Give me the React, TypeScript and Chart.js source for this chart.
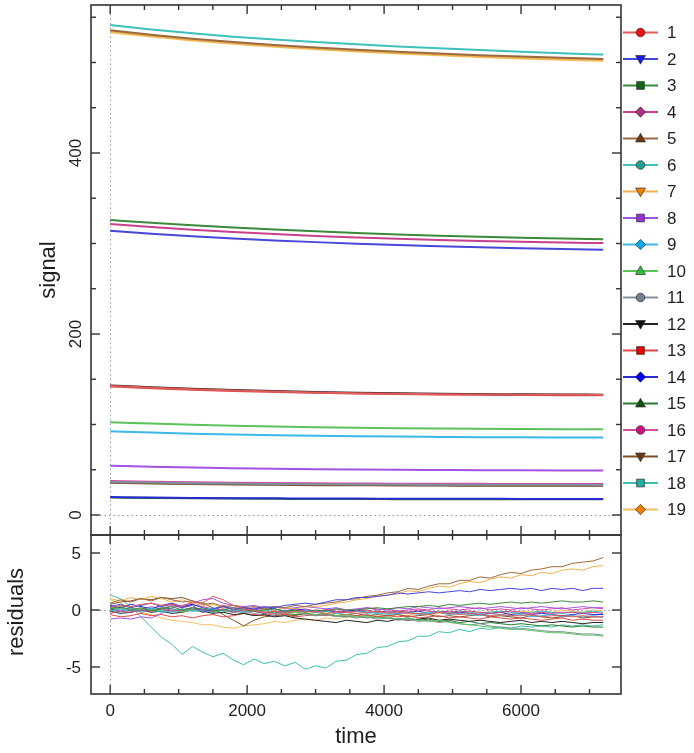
import { useEffect, useRef } from 'react';
import { Chart, registerables } from 'chart.js';
Chart.register(...registerables);

const FONT = '"Liberation Sans", Arial, Helvetica, sans-serif';

// ---------- axis ticks ----------
const timeMajorTicks = [0, 2000, 4000, 6000];
const timeMinorTicks = [500, 1000, 1500, 2500, 3000, 3500, 4500, 5000, 5500, 6500, 7000];
const signalMajorTicks = [0, 200, 400];
const signalMinorTicks = [50, 100, 150, 250, 300, 350, 450, 500, 550];
const residMajorTicks = [-5, 0, 5];

// ---------- series ----------
const seriesLabels = ['1', '2', '3', '4', '5', '6', '7', '8', '9', '10', '11', '12', '13', '14', '15', '16', '17', '18', '19'];
const lineColors = ['#e25b5b', '#4646d8', '#3a8a3a', '#c8408c', '#9a6a40', '#3ec0bc', '#f2b04e', '#a452e2', '#3cb8e8', '#5cc25c', '#8090a0', '#222222', '#e04848', '#2a2ad0', '#2e7a2e', '#d24ca4', '#7e5024', '#3cc0b0', '#f2c060'];
const markerColors = ['#f01010', '#1a1aee', '#116611', '#b0307a', '#6b3a10', '#20a090', '#f08000', '#9a30e0', '#10a8e8', '#30c040', '#708090', '#111111', '#f00000', '#0000ee', '#105010', '#d01080', '#6b3a10', '#20b0a0', '#f08000'];
const markerShapes = ['circle', 'triDown', 'square', 'diamond', 'triUp', 'circle', 'triDown', 'square', 'diamond', 'triUp', 'circle', 'triDown', 'square', 'diamond', 'triUp', 'circle', 'triDown', 'square', 'diamond'];

// ---------- fitted signal curves ----------
const fitTimes = [0, 600, 1200, 1800, 2400, 3000, 3600, 4200, 4800, 5400, 6000, 6600, 7200];
const signal1 = [142.5, 140.6, 139.0, 137.6, 136.4, 135.4, 134.6, 134.0, 133.5, 133.2, 133.0, 132.8, 132.7];
const signal2 = [314.0, 310.8, 308.0, 305.6, 303.4, 301.5, 299.8, 298.3, 297.0, 295.8, 294.8, 293.9, 293.2];
const signal3 = [326.0, 322.9, 320.1, 317.6, 315.4, 313.4, 311.6, 310.0, 308.6, 307.4, 306.3, 305.4, 304.6];
const signal4 = [321.5, 318.2, 315.3, 312.7, 310.4, 308.4, 306.6, 305.1, 303.8, 302.7, 301.8, 301.0, 300.4];
const signal5 = [535.5, 530.6, 526.3, 522.6, 519.4, 516.6, 514.1, 511.9, 509.9, 508.1, 506.5, 505.1, 503.9];
const signal6 = [541.5, 536.5, 532.2, 528.5, 525.3, 522.5, 520.0, 517.7, 515.6, 513.7, 511.9, 510.2, 508.7];
const signal7 = [534.5, 529.5, 525.2, 521.5, 518.3, 515.5, 513.0, 510.8, 508.8, 507.0, 505.4, 504.0, 502.8];
const signal8 = [54.5, 53.4, 52.5, 51.7, 51.1, 50.6, 50.2, 49.9, 49.7, 49.5, 49.4, 49.3, 49.2];
const signal9 = [92.5, 91.1, 89.9, 88.9, 88.1, 87.5, 87.0, 86.6, 86.3, 86.0, 85.8, 85.7, 85.6];
const signal10 = [102.5, 101.0, 99.7, 98.6, 97.7, 97.0, 96.4, 95.9, 95.5, 95.2, 95.0, 94.8, 94.7];
const signal11 = [36.5, 35.8, 35.2, 34.7, 34.3, 34.0, 33.8, 33.6, 33.5, 33.4, 33.3, 33.3, 33.2];
const signal12 = [143.2, 141.2, 139.5, 138.1, 136.9, 135.9, 135.1, 134.4, 133.9, 133.6, 133.3, 133.1, 133.0];
const signal13 = [142.0, 140.1, 138.5, 137.1, 136.0, 135.0, 134.2, 133.6, 133.1, 132.8, 132.6, 132.4, 132.3];
const signal14 = [19.8, 19.3, 18.9, 18.6, 18.4, 18.2, 18.1, 18.0, 17.9, 17.9, 17.8, 17.8, 17.8];
const signal15 = [19.3, 18.8, 18.4, 18.1, 17.9, 17.7, 17.6, 17.5, 17.4, 17.4, 17.3, 17.3, 17.3];
const signal16 = [37.5, 36.8, 36.2, 35.7, 35.3, 35.0, 34.8, 34.6, 34.5, 34.4, 34.3, 34.3, 34.2];
const signal17 = [35.5, 34.8, 34.2, 33.7, 33.3, 33.0, 32.8, 32.6, 32.5, 32.4, 32.3, 32.3, 32.2];
const signal18 = [36.0, 35.3, 34.7, 34.2, 33.8, 33.5, 33.3, 33.1, 33.0, 32.9, 32.8, 32.8, 32.7];
const signal19 = [533.5, 528.6, 524.3, 520.6, 517.4, 514.6, 512.1, 509.9, 507.9, 506.1, 504.5, 503.1, 501.9];

// ---------- residuals ----------
const residTimes = [
  0, 150, 300, 450, 600, 750, 900,
  1050, 1200, 1350, 1500, 1650, 1800, 1950,
  2100, 2250, 2400, 2550, 2700, 2850, 3000,
  3150, 3300, 3450, 3600, 3750, 3900, 4050,
  4200, 4350, 4500, 4650, 4800, 4950, 5100,
  5250, 5400, 5550, 5700, 5850, 6000, 6150,
  6300, 6450, 6600, 6750, 6900, 7050, 7200,
];
const resid1 = [
  0.2, 0.4, 0.3, 0.5, 0.6, 0.4, 0.5,
  0.3, 0.7, 0.6, 1.2, 0.9, 0.4, 0.1,
  0.0, -0.2, -0.1, -0.3, -0.1, -0.2, -0.1,
  -0.3, -0.2, -0.2, -0.3, -0.2, -0.1, -0.3,
  -0.2, -0.3, -0.3, -0.4, -0.2, -0.3, -0.4,
  -0.3, -0.4, -0.5, -0.4, -0.5, -0.5, -0.4,
  -0.6, -0.5, -0.5, -0.6, -0.5, -0.6, -0.6,
];
const resid2 = [
  0.3, 0.5, 0.2, 0.4, 0.6, 0.3, 0.5,
  0.2, 0.4, -0.2, 0.1, 0.3, 0.0, 0.2,
  0.1, 0.3, 0.2, 0.4, 0.5, 0.6, 0.5,
  0.7, 0.9, 0.9, 1.1, 1.1, 1.2, 1.3,
  1.5, 1.4, 1.5, 1.6, 1.5, 1.6, 1.7,
  1.6, 1.8, 1.7, 1.8, 1.9, 1.8, 1.9,
  1.7, 1.9, 1.8, 1.9, 1.7, 1.9, 1.9,
];
const resid3 = [
  0.1, 0.3, 0.0, 0.2, -0.1, 0.1, 0.3,
  0.0, 0.2, 0.1, -0.1, 0.0, 0.2, 0.1,
  -0.1, 0.0, 0.1, -0.1, 0.0, -0.2, 0.0,
  -0.1, 0.1, 0.0, 0.0, 0.1, 0.2, 0.1,
  0.2, 0.3, 0.3, 0.4, 0.3, 0.5, 0.4,
  0.5, 0.6, 0.5, 0.6, 0.7, 0.6, 0.7,
  0.6, 0.7, 0.8, 0.7, 0.7, 0.8, 0.7,
];
const resid4 = [
  -0.3, -0.1, -0.2, 0.0, -0.1, 0.1, -0.1,
  0.0, 0.2, 0.0, -0.1, 0.1, -0.2, 0.0,
  -0.1, -0.3, -0.1, -0.2, 0.0, -0.1, -0.2,
  0.0, -0.1, -0.2, -0.1, 0.0, -0.2, -0.1,
  -0.1, -0.2, 0.0, -0.1, -0.2, -0.1, -0.2,
  -0.1, -0.2, -0.3, -0.2, -0.1, -0.2, -0.3,
  -0.2, -0.3, -0.2, -0.2, -0.3, -0.2, -0.3,
];
const resid5 = [
  0.6, 0.9, 0.7, 1.0, 0.8, 1.1, 0.9,
  0.7, 0.8, 0.5, 0.6, 0.3, 0.4, 0.2,
  0.3, 0.1, 0.3, 0.2, 0.4, 0.3, 0.5,
  0.6, 0.7, 0.9, 1.0, 1.2, 1.3, 1.5,
  1.6, 1.9, 1.8, 2.1, 2.3, 2.3, 2.6,
  2.6, 2.9, 2.8, 3.1, 3.3, 3.2, 3.5,
  3.6, 3.8, 3.8, 4.1, 4.2, 4.3, 4.6,
];
const resid6 = [
  0.0, -0.2, 0.1, -0.1, 0.0, -0.2, -0.1,
  0.1, -0.1, 0.0, -0.2, 0.0, -0.1, 0.1,
  -0.1, 0.0, -0.2, -0.1, 0.0, -0.1, -0.2,
  -0.1, -0.3, -0.2, -0.1, -0.2, -0.3, -0.2,
  -0.1, -0.2, -0.3, -0.2, -0.1, -0.2, -0.1,
  -0.2, -0.3, -0.2, -0.1, -0.2, -0.3, -0.2,
  -0.1, -0.2, -0.3, -0.2, -0.2, -0.1, -0.2,
];
const resid7 = [
  1.0, 0.8, 1.1, 0.9, 1.2, 1.0, 0.7,
  0.9, 0.6, 0.4, 0.5, 0.2, 0.1, 0.0,
  -0.1, 0.1, 0.0, 0.2, 0.1, 0.3, 0.3,
  0.4, 0.6, 0.7, 0.9, 1.0, 1.2, 1.3,
  1.4, 1.7, 1.6, 1.9, 2.1, 2.0, 2.3,
  2.5, 2.4, 2.7, 2.9, 2.8, 3.1, 3.0,
  3.3, 3.2, 3.5, 3.6, 3.5, 3.8, 3.9,
];
const resid8 = [
  -0.8, -0.7, -0.8, -0.6, -0.7, -0.3, 0.2,
  0.4, 0.6, 0.9, 1.0, 0.6, 0.4, 0.3,
  0.4, 0.2, 0.3, 0.1, 0.2, 0.3, 0.2,
  0.1, 0.2, 0.0, 0.1, 0.2, 0.1, 0.0,
  0.2, 0.1, 0.3, 0.2, 0.1, 0.2, 0.3,
  0.2, 0.1, 0.2, 0.3, 0.2, 0.1, 0.2,
  0.3, 0.2, 0.1, 0.2, 0.3, 0.2, 0.2,
];
const resid9 = [
  0.2, 0.0, 0.1, -0.1, 0.2, 0.0, -0.2,
  0.1, -0.1, 0.0, 0.2, -0.1, 0.0, -0.2,
  0.0, -0.1, 0.1, -0.2, -0.1, 0.0, -0.2,
  -0.1, -0.3, -0.2, -0.1, -0.3, -0.2, -0.4,
  -0.3, -0.2, -0.4, -0.3, -0.2, -0.4, -0.3,
  -0.4, -0.5, -0.3, -0.4, -0.5, -0.4, -0.6,
  -0.5, -0.4, -0.6, -0.5, -0.6, -0.5, -0.6,
];
const resid10 = [
  0.3, 0.1, 0.2, 0.0, 0.1, -0.1, 0.0,
  -0.2, 0.0, -0.1, 0.1, -0.1, -0.2, 0.0,
  -0.1, -0.2, -0.1, -0.3, -0.2, -0.3, -0.4,
  -0.3, -0.5, -0.4, -0.6, -0.5, -0.7, -0.6,
  -0.8, -0.7, -0.9, -1.0, -0.9, -1.1, -1.2,
  -1.3, -1.4, -1.5, -1.6, -1.7, -1.7, -1.8,
  -1.9, -2.0, -2.0, -2.1, -2.2, -2.2, -2.3,
];
const resid11 = [
  -0.1, 0.1, 0.0, -0.2, 0.0, -0.1, 0.1,
  -0.1, 0.0, -0.2, -0.1, 0.0, -0.2, -0.1,
  -0.3, -0.2, -0.4, -0.3, -0.2, -0.4, -0.5,
  -0.4, -0.6, -0.5, -0.7, -0.6, -0.8, -0.7,
  -0.9, -0.8, -1.0, -0.9, -1.1, -1.0, -1.2,
  -1.3, -1.2, -1.4, -1.5, -1.6, -1.6, -1.7,
  -1.8, -1.9, -1.9, -2.0, -2.1, -2.1, -2.2,
];
const resid12 = [
  -0.1, -0.3, -0.2, 0.0, -0.2, -0.1, -0.3,
  -0.2, 0.0, -0.1, -0.3, -0.2, -0.4, -0.3,
  -0.5, -0.4, -0.6, -0.5, -0.7, -0.8, -0.9,
  -1.0, -1.1, -0.9, -1.0, -1.1, -0.9, -1.0,
  -0.8, -0.9, -0.8, -0.7, -0.9, -0.8, -0.9,
  -1.0, -0.9, -1.0, -1.1, -1.0, -0.9, -1.1,
  -1.0, -1.1, -1.0, -1.1, -1.2, -1.1, -1.1,
];
const resid13 = [
  -0.4, -0.6, -0.5, -0.3, -0.5, -0.4, -0.6,
  -0.5, -0.7, -0.5, -0.4, -0.6, -0.5, -0.3,
  -0.4, -0.5, -0.3, -0.4, -0.6, -0.5, -0.4,
  -0.5, -0.3, -0.4, -0.5, -0.4, -0.6, -0.5,
  -0.6, -0.5, -0.7, -0.6, -0.5, -0.7, -0.6,
  -0.7, -0.8, -0.6, -0.7, -0.8, -0.7, -0.8,
  -0.9, -0.8, -0.7, -0.9, -0.8, -0.9, -0.9,
];
const resid14 = [
  0.4, 0.2, 0.5, 0.3, 0.1, 0.4, 0.6,
  0.3, 0.5, 0.2, 0.0, 0.3, 0.1, 0.2,
  0.0, 0.2, 0.1, -0.1, 0.1, 0.0, -0.1,
  0.0, -0.2, -0.1, 0.0, -0.2, -0.1, -0.2,
  -0.3, -0.2, -0.1, -0.3, -0.2, -0.3, -0.2,
  -0.3, -0.4, -0.3, -0.2, -0.4, -0.3, -0.4,
  -0.3, -0.4, -0.5, -0.4, -0.3, -0.4, -0.4,
];
const resid15 = [
  0.0, 0.2, -0.1, 0.1, 0.0, 0.2, 0.1,
  -0.1, 0.1, 0.0, -0.2, 0.0, -0.1, -0.2,
  -0.1, -0.3, -0.2, -0.3, -0.4, -0.3, -0.5,
  -0.4, -0.5, -0.6, -0.5, -0.7, -0.6, -0.7,
  -0.8, -0.7, -0.9, -0.8, -1.0, -0.9, -1.1,
  -1.0, -1.2, -1.1, -1.2, -1.3, -1.2, -1.3,
  -1.4, -1.3, -1.4, -1.5, -1.4, -1.5, -1.5,
];
const resid16 = [
  0.1, -0.1, 0.2, 0.0, 0.3, 0.1, 0.4,
  0.2, 0.5, 0.3, 0.1, 0.4, 0.2, 0.0,
  0.2, 0.0, 0.1, -0.1, 0.0, 0.1, -0.1,
  0.0, 0.1, -0.1, 0.0, 0.2, 0.0, 0.1,
  -0.1, 0.0, 0.1, 0.0, 0.2, 0.1, 0.0,
  0.1, 0.2, 0.0, 0.1, 0.0, 0.2, 0.1,
  0.0, 0.1, 0.2, 0.0, 0.1, 0.2, 0.1,
];
const resid17 = [
  0.5, 0.7, 0.8, 1.0, 0.9, 1.1, 1.0,
  1.1, 0.8, 0.6, 0.2, -0.4, -0.9, -1.4,
  -0.9, -0.6, -0.5, -0.4, -0.5, -0.3, -0.4,
  -0.3, -0.5, -0.4, -0.3, -0.5, -0.4, -0.5,
  -0.4, -0.6, -0.5, -0.4, -0.6, -0.5, -0.6,
  -0.5, -0.4, -0.6, -0.5, -0.6, -0.7, -0.5,
  -0.6, -0.7, -0.6, -0.5, -0.7, -0.6, -0.6,
];
const resid18 = [
  1.3, 1.0, 0.3, -0.6, -1.5, -2.4, -3.0,
  -3.9, -3.2, -3.7, -4.1, -3.8, -4.4, -4.8,
  -4.3, -4.7, -4.5, -4.9, -4.6, -5.2, -4.9,
  -5.1, -4.5, -4.4, -3.9, -3.8, -3.3, -3.2,
  -2.8, -2.7, -2.3, -2.3, -1.9, -2.0, -1.7,
  -1.9, -1.6, -1.7, -1.5, -1.6, -1.4, -1.5,
  -1.4, -1.5, -1.3, -1.4, -1.3, -1.4, -1.3,
];
const resid19 = [
  0.9, 0.6, 0.2, -0.2, -0.4, -0.7, -0.9,
  -1.0, -1.1, -1.3, -1.3, -1.5, -1.6, -1.4,
  -1.3, -1.2, -1.0, -1.1, -0.9, -0.8, -0.9,
  -0.7, -0.8, -0.6, -0.7, -0.5, -0.6, -0.5,
  -0.4, -0.5, -0.3, -0.4, -0.3, -0.2, -0.3,
  -0.2, -0.3, -0.1, -0.2, -0.3, -0.1, -0.2,
  -0.1, -0.2, 0.0, -0.1, -0.2, 0.0, -0.1,
];

const signals = [signal1, signal2, signal3, signal4, signal5, signal6, signal7, signal8, signal9, signal10,
  signal11, signal12, signal13, signal14, signal15, signal16, signal17, signal18, signal19];
const residuals = [resid1, resid2, resid3, resid4, resid5, resid6, resid7, resid8, resid9, resid10,
  resid11, resid12, resid13, resid14, resid15, resid16, resid17, resid18, resid19];

const TEXT = '#1e1e1e';
const FRAME = '#333333';

function drawMarker(ctx: CanvasRenderingContext2D, shape: string, x: number, y: number, r: number, fill: string) {
  ctx.beginPath();
  if (shape === 'circle') {
    ctx.arc(x, y, r, 0, Math.PI * 2);
  } else if (shape === 'square') {
    ctx.rect(x - r * 0.9, y - r * 0.9, r * 1.8, r * 1.8);
  } else if (shape === 'diamond') {
    ctx.moveTo(x, y - r * 1.2); ctx.lineTo(x + r * 1.2, y); ctx.lineTo(x, y + r * 1.2); ctx.lineTo(x - r * 1.2, y); ctx.closePath();
  } else if (shape === 'triUp') {
    ctx.moveTo(x, y - r * 1.2); ctx.lineTo(x + r * 1.15, y + r * 0.8); ctx.lineTo(x - r * 1.15, y + r * 0.8); ctx.closePath();
  } else {
    ctx.moveTo(x, y + r * 1.2); ctx.lineTo(x + r * 1.15, y - r * 0.8); ctx.lineTo(x - r * 1.15, y - r * 0.8); ctx.closePath();
  }
  ctx.fillStyle = fill;
  ctx.fill();
  ctx.strokeStyle = 'rgba(40,40,40,0.85)';
  ctx.lineWidth = 0.8;
  ctx.stroke();
}

function line(ctx: CanvasRenderingContext2D, x1: number, y1: number, x2: number, y2: number) {
  ctx.beginPath(); ctx.moveTo(x1, y1); ctx.lineTo(x2, y2); ctx.stroke();
}

function drawGuides(chart: any) {
  const ctx = chart.ctx as CanvasRenderingContext2D;
  const { left, right, top, bottom } = chart.chartArea;
  const xs = chart.scales.x, ys = chart.scales.y;
  ctx.save();
  ctx.strokeStyle = '#9a9a9a';
  ctx.lineWidth = 1;
  ctx.setLineDash([1.5, 3]);
  const x0 = Math.round(xs.getPixelForValue(0)) + 0.5;
  line(ctx, x0, top, x0, bottom);
  const y0 = Math.round(ys.getPixelForValue(0)) + 0.5;
  line(ctx, left, y0, right, y0);
  ctx.restore();
}

function drawFrame(chart: any, yMajor: number[], yMinor: number[]) {
  const ctx = chart.ctx as CanvasRenderingContext2D;
  const { left, right, top, bottom } = chart.chartArea;
  const xs = chart.scales.x, ys = chart.scales.y;
  ctx.save();
  ctx.strokeStyle = FRAME;
  ctx.lineWidth = 1.6;
  ctx.strokeRect(left, top, right - left, bottom - top);
  ctx.lineWidth = 1.4;
  const xt = (v: number, len: number) => {
    const p = xs.getPixelForValue(v);
    line(ctx, p, top, p, top + len);
    line(ctx, p, bottom, p, bottom - len);
  };
  const yt = (v: number, len: number) => {
    const p = ys.getPixelForValue(v);
    line(ctx, left, p, left + len, p);
    line(ctx, right, p, right - len, p);
  };
  timeMajorTicks.forEach((v) => xt(v, 9));
  timeMinorTicks.forEach((v) => xt(v, 5));
  yMajor.forEach((v) => yt(v, 9));
  yMinor.forEach((v) => yt(v, 5));
  ctx.restore();
}

export default function App() {
  const topRef = useRef<HTMLCanvasElement>(null);
  const botRef = useRef<HTMLCanvasElement>(null);

  useEffect(() => {
    const baseScales = (yMin: number, yMax: number, xHeight: number) => ({
      x: {
        type: 'linear' as const, min: -280, max: 7460,
        ticks: { display: false }, grid: { display: false }, border: { display: false },
        afterFit: (s: any) => { s.height = xHeight; },
      },
      y: {
        type: 'linear' as const, min: yMin, max: yMax,
        ticks: { display: false }, grid: { display: false }, border: { display: false },
        afterFit: (s: any) => { s.width = 91; },
      },
    });

    const topPlugin = {
      id: 'topDecor',
      beforeDatasetsDraw(chart: any) { drawGuides(chart); },
      afterDatasetsDraw(chart: any) {
        const ctx = chart.ctx as CanvasRenderingContext2D;
        drawFrame(chart, signalMajorTicks, signalMinorTicks);
        const ys = chart.scales.y;
        ctx.save();
        ctx.fillStyle = TEXT;
        ctx.font = `17px ${FONT}`;
        ctx.textAlign = 'center';
        ctx.textBaseline = 'middle';
        signalMajorTicks.forEach((v) => {
          const p = ys.getPixelForValue(v);
          ctx.save();
          ctx.translate(76, p);
          ctx.rotate(-Math.PI / 2);
          ctx.fillText(String(v), 0, 0);
          ctx.restore();
        });
        ctx.font = `22px ${FONT}`;
        ctx.save();
        ctx.translate(49, 270);
        ctx.rotate(-Math.PI / 2);
        ctx.fillText('signal', 0, 0);
        ctx.restore();
        // legend
        ctx.font = `17px ${FONT}`;
        ctx.textAlign = 'left';
        seriesLabels.forEach((lab, i) => {
          const y = 32.5 + 26.5 * i;
          ctx.strokeStyle = lineColors[i];
          ctx.lineWidth = 2;
          line(ctx, 623, y, 658, y);
          drawMarker(ctx, markerShapes[i], 640.5, y, 4.3, markerColors[i]);
          ctx.fillStyle = TEXT;
          ctx.fillText(lab, 667, y + 1);
        });
        ctx.restore();
      },
    };

    const botPlugin = {
      id: 'botDecor',
      beforeDatasetsDraw(chart: any) { drawGuides(chart); },
      afterDatasetsDraw(chart: any) {
        const ctx = chart.ctx as CanvasRenderingContext2D;
        drawFrame(chart, residMajorTicks, []);
        const xs = chart.scales.x, ys = chart.scales.y;
        ctx.save();
        ctx.fillStyle = TEXT;
        ctx.font = `17px ${FONT}`;
        ctx.textAlign = 'right';
        ctx.textBaseline = 'middle';
        residMajorTicks.forEach((v) => {
          ctx.fillText(String(v), 81, ys.getPixelForValue(v) + 1);
        });
        ctx.textAlign = 'center';
        timeMajorTicks.forEach((v) => {
          ctx.fillText(String(v), xs.getPixelForValue(v), 181);
        });
        ctx.font = `22px ${FONT}`;
        ctx.fillText('time', 356, 207);
        ctx.save();
        ctx.translate(17, 82);
        ctx.rotate(-Math.PI / 2);
        ctx.fillText('residuals', 0, 0);
        ctx.restore();
        ctx.restore();
      },
    };

    const topChart = new Chart(topRef.current as HTMLCanvasElement, {
      type: 'line',
      data: {
        datasets: signals.map((s, k) => ({
          label: seriesLabels[k],
          data: fitTimes.map((t, i) => ({ x: t, y: s[i] })),
          borderColor: lineColors[k],
          backgroundColor: lineColors[k],
          borderWidth: 2,
          pointRadius: 0,
          cubicInterpolationMode: 'monotone' as const,
          fill: false,
        })),
      },
      options: {
        responsive: false,
        animation: false,
        events: [],
        layout: { padding: { left: 0, right: 73, top: 5, bottom: 5 } },
        plugins: { legend: { display: false }, tooltip: { enabled: false } },
        scales: baseScales(-22.1, 563.5, 0) as any,
      },
      plugins: [topPlugin],
    });

    const botChart = new Chart(botRef.current as HTMLCanvasElement, {
      type: 'line',
      data: {
        datasets: residuals.map((s, k) => ({
          label: seriesLabels[k],
          data: residTimes.map((t, i) => ({ x: t, y: s[i] })),
          borderColor: lineColors[k],
          backgroundColor: lineColors[k],
          borderWidth: 1,
          pointRadius: 0,
          tension: 0,
          fill: false,
        })),
      },
      options: {
        responsive: false,
        animation: false,
        events: [],
        layout: { padding: { left: 0, right: 73, top: 5, bottom: 0 } },
        plugins: { legend: { display: false }, tooltip: { enabled: false } },
        scales: baseScales(-7.37, 6.58, 59) as any,
      },
      plugins: [botPlugin],
    });

    return () => { topChart.destroy(); botChart.destroy(); };
  }, []);

  return (
    <div style={{ position: 'fixed', left: 0, top: 0, width: 694, height: 753, background: '#ffffff' }}>
      <canvas ref={topRef} width={694} height={540}
        style={{ position: 'absolute', left: 0, top: 0, width: 694, height: 540 }} />
      <canvas ref={botRef} width={694} height={223}
        style={{ position: 'absolute', left: 0, top: 530, width: 694, height: 223 }} />
    </div>
  );
}
